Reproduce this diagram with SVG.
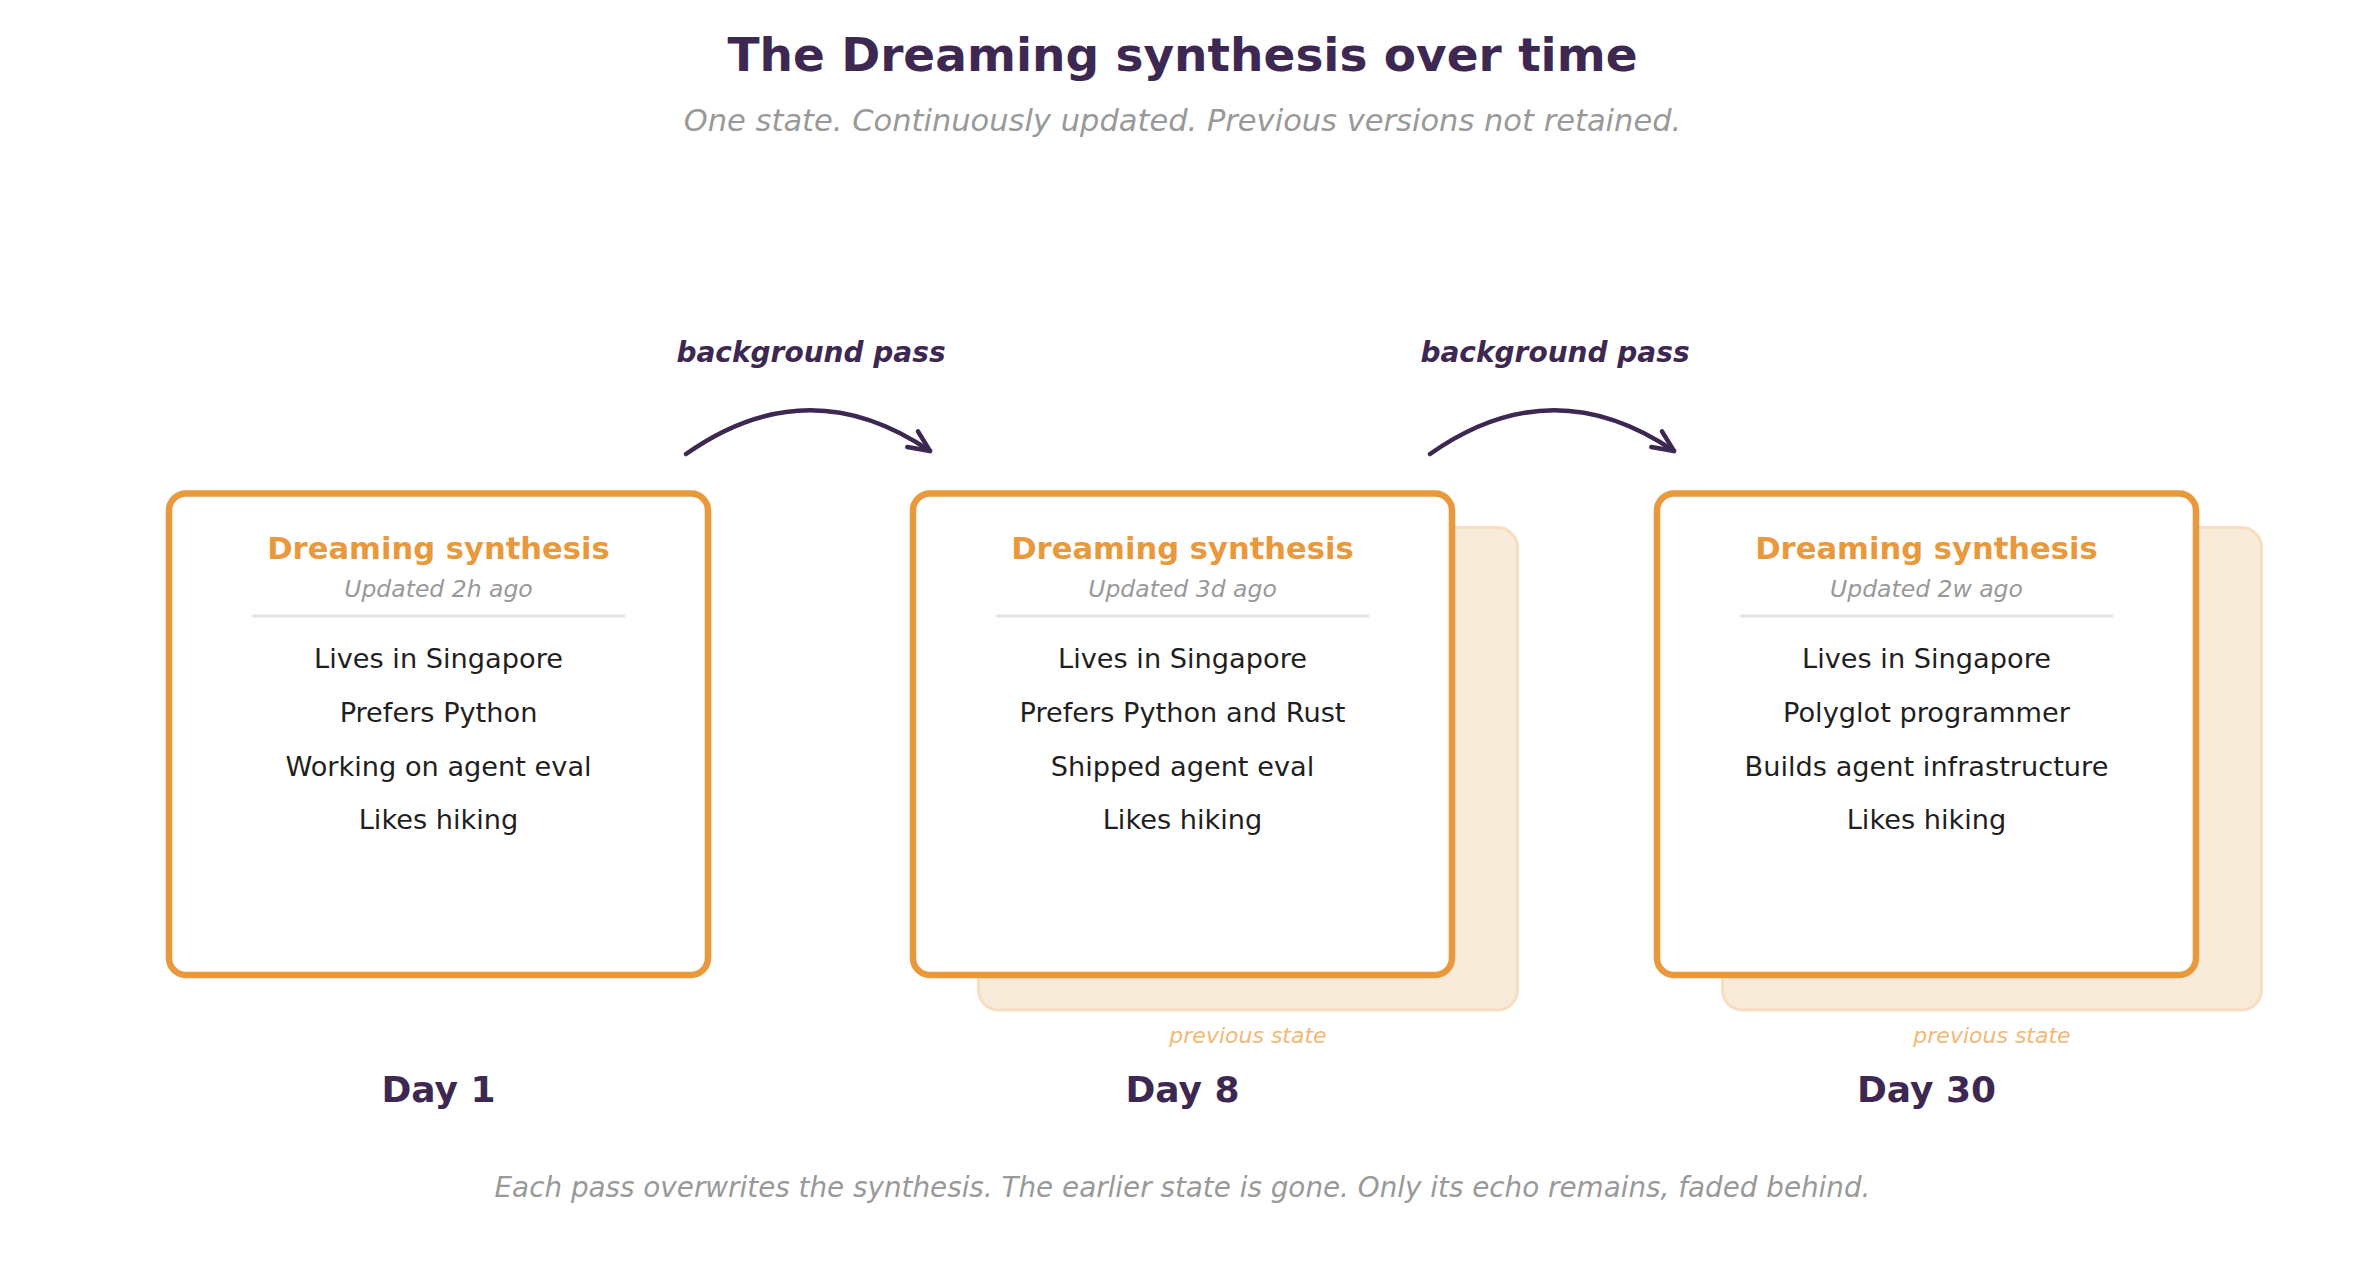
<svg xmlns="http://www.w3.org/2000/svg" width="2365" height="1272" viewBox="0 0 2365 1272">
<style>
text{font-family:"DejaVu Sans","Noto Sans",sans-serif;text-anchor:middle}
.title{font-size:47px;font-weight:bold;fill:#3D2852}
.sub{font-size:30.5px;font-style:italic;fill:#999999}
.foot{font-size:27.8px;font-style:italic;fill:#999999}
.card{fill:#FFFFFF;stroke:#E8993C;stroke-width:6.5}
.prev{fill:#F9EBDA;stroke:#F6DEC2;stroke-width:3}
.ctitle{font-size:30.6px;font-weight:bold;fill:#E8993C}
.upd{font-size:23.5px;font-style:italic;fill:#999999}
.div{stroke:#E6E6E6;stroke-width:3}
.item{font-size:27.2px;fill:#1F1F1F}
.day{font-size:36px;font-weight:bold;fill:#3D2852}
.plab{font-size:22px;font-style:italic;fill:#F2B877}
.pass{font-size:28px;font-weight:bold;font-style:italic;fill:#3D2852}
.arc{fill:none;stroke:#3D2852;stroke-width:4.5;stroke-linecap:round}
</style>
<defs>
<marker id="ah" markerUnits="userSpaceOnUse" markerWidth="40" markerHeight="40" refX="0" refY="0" orient="auto" overflow="visible">
<path d="M -21 -9.5 L 0 0 L -21 9.5" fill="none" stroke="#3D2852" stroke-width="4.5" stroke-linecap="round" stroke-linejoin="round"/>
</marker>
</defs>
<rect width="2365" height="1272" fill="#FFFFFF"/>
<g id="header">
<text class="title" x="1182.5" y="71">The Dreaming synthesis over time</text>
<text class="sub" x="1182.5" y="131">One state. Continuously updated. Previous versions not retained.</text>
</g>
<g id="prev-day8">
<rect class="prev" x="978.5" y="527.5" width="539" height="482.5" rx="20"/>
<text class="plab" x="1248" y="1043">previous state</text>
</g>
<g id="prev-day30">
<rect class="prev" x="1722.5" y="527.5" width="539" height="482.5" rx="20"/>
<text class="plab" x="1992" y="1043">previous state</text>
</g>
<g id="card-day1">
<rect class="card" x="169" y="493.5" width="539" height="481.5" rx="17"/>
<text class="ctitle" x="438.5" y="559">Dreaming synthesis</text>
<text class="upd" x="438.5" y="597">Updated 2h ago</text>
<line class="div" x1="252" y1="616" x2="625" y2="616"/>
<text class="item" x="438.5" y="668">Lives in Singapore</text>
<text class="item" x="438.5" y="722">Prefers Python</text>
<text class="item" x="438.5" y="775.5">Working on agent eval</text>
<text class="item" x="438.5" y="829">Likes hiking</text>
<text class="day" x="438.5" y="1102">Day 1</text>
</g>
<g id="card-day8">
<rect class="card" x="913" y="493.5" width="539" height="481.5" rx="17"/>
<text class="ctitle" x="1182.5" y="559">Dreaming synthesis</text>
<text class="upd" x="1182.5" y="597">Updated 3d ago</text>
<line class="div" x1="996" y1="616" x2="1369" y2="616"/>
<text class="item" x="1182.5" y="668">Lives in Singapore</text>
<text class="item" x="1182.5" y="722">Prefers Python and Rust</text>
<text class="item" x="1182.5" y="775.5">Shipped agent eval</text>
<text class="item" x="1182.5" y="829">Likes hiking</text>
<text class="day" x="1182.5" y="1102">Day 8</text>
</g>
<g id="card-day30">
<rect class="card" x="1657" y="493.5" width="539" height="481.5" rx="17"/>
<text class="ctitle" x="1926.5" y="559">Dreaming synthesis</text>
<text class="upd" x="1926.5" y="597">Updated 2w ago</text>
<line class="div" x1="1740" y1="616" x2="2113" y2="616"/>
<text class="item" x="1926.5" y="668">Lives in Singapore</text>
<text class="item" x="1926.5" y="722">Polyglot programmer</text>
<text class="item" x="1926.5" y="775.5">Builds agent infrastructure</text>
<text class="item" x="1926.5" y="829">Likes hiking</text>
<text class="day" x="1926.5" y="1102">Day 30</text>
</g>
<g id="connectors">
<path class="arc" d="M 686 454 Q 808 368 930 451" marker-end="url(#ah)"/>
<text class="pass" x="811" y="362">background pass</text>
<path class="arc" d="M 1430 454 Q 1552 368 1674 451" marker-end="url(#ah)"/>
<text class="pass" x="1555" y="362">background pass</text>
</g>
<g id="footer">
<text class="foot" x="1182.5" y="1197">Each pass overwrites the synthesis. The earlier state is gone. Only its echo remains, faded behind.</text>
</g>
</svg>
